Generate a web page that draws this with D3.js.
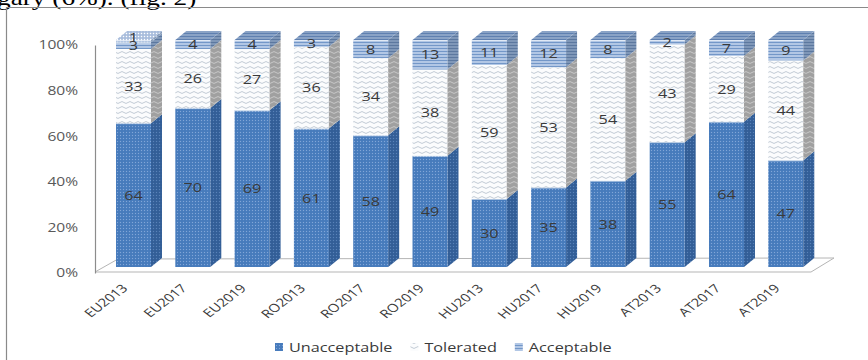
<!DOCTYPE html>
<html><head><meta charset="utf-8">
<script src="https://cdn.jsdelivr.net/npm/d3@7"></script>
<style>
html,body{margin:0;padding:0;background:#fff;overflow:hidden}
svg{display:block}
</style></head><body>
<svg id="chart" width="868" height="360"></svg>
<script>
// Survey shares per country/year (percent)
const categories = ["EU2013","EU2017","EU2019","RO2013","RO2017","RO2019","HU2013","HU2017","HU2019","AT2013","AT2017","AT2019"];
const unacceptable = [64,70,69,61,58,49,30,35,38,55,64,47];
const tolerated    = [33,26,27,36,34,38,59,53,54,43,29,44];
const acceptable   = [3,4,4,3,8,13,11,12,8,2,7,9];
const dontKnow     = [1,0,0,0,0,0,0,0,0,0,0,0];
const legendNames  = ["Unacceptable","Tolerated","Acceptable"];
const yTickValues  = [0,0.2,0.4,0.6,0.8,1];
const captionText  = "gary (6%). (fig. 2)";

const keys = ["Unacceptable","Tolerated","Acceptable","DK"];
const rows = categories.map((c,i)=>({cat:c, Unacceptable:unacceptable[i], Tolerated:tolerated[i], Acceptable:acceptable[i], DK:dontKnow[i]}));

const S = 1.3;            // horizontal text stretch
const DX = 11, DY = 9;    // bar depth offset
const FONT = "'Open Sans', sans-serif";

const svg = d3.select("#chart");
const defs = svg.append("defs");

function pattern(id, w, h, bg, draw){
  const p = defs.append("pattern").attr("id",id).attr("patternUnits","userSpaceOnUse")
    .attr("width",w).attr("height",h);
  p.append("rect").attr("width",w).attr("height",h).attr("fill",bg);
  draw(p);
}
function dots(c1,c2){ return p=>{
  p.append("rect").attr("x",0).attr("y",0).attr("width",1).attr("height",1).attr("fill",c1);
  p.append("rect").attr("x",1.5).attr("y",1.5).attr("width",1).attr("height",1).attr("fill",c2);
};}
function waves(c){ return p=>{
  p.append("path").attr("d","M0,2.5 Q2,0.6 4,2.5 T8,2.5").attr("fill","none").attr("stroke",c).attr("stroke-width",0.8);
};}
function stripes(c){ return p=>{
  p.append("rect").attr("x",0).attr("y",0).attr("width",4).attr("height",1).attr("fill",c);
};}
pattern("pU",3,3,"#4a7ebf",dots("#82a6d6","#3f70ae"));
pattern("pUs",3,3,"#35619b",dots("#5a82b6","#2c5488"));
pattern("pUt",3,3,"#5d86bd",dots("#8fb0da","#4a74ab"));
pattern("pT",8,5,"#fbfcfd",waves("#b3bdca"));
pattern("pTs",8,5,"#a0a0a0",waves("#d0d0d0"));
pattern("pTt",8,5,"#c9cdd3",waves("#e8e8e8"));
pattern("pA",4,3,"#b2c7e5",stripes("#7397c8"));
pattern("pAs",4,3,"#7f97b8",stripes("#5c789f"));
pattern("pAt",4,3,"#8aa3c6",stripes("#5f80b0"));
pattern("pD",3,3,"#c3d3ea",dots("#ffffff","#7f9fcc"));
pattern("pDs",3,3,"#8ea3c0",dots("#c0cde0","#6f88ab"));
pattern("pDt",3,3,"#b7c8e2",dots("#ffffff","#7f9fcc"));
const fills = {
  Unacceptable:["url(#pU)","url(#pUs)","url(#pUt)"],
  Tolerated:["url(#pT)","url(#pTs)","url(#pTt)"],
  Acceptable:["url(#pA)","url(#pAs)","url(#pAt)"],
  DK:["url(#pD)","url(#pDs)","url(#pDt)"]
};

// caption line of the surrounding text
svg.append("text").attr("transform",`translate(-3,5) scale(${S},1)`).attr("font-family","'Liberation Serif', serif")
  .attr("font-size",21).attr("fill","#000").text(captionText);

// chart frame
svg.append("path").attr("d","M6.5,361 V7.5 H870").attr("fill","none").attr("stroke","#8a8a8a").attr("stroke-width",1.2);

// scales
const x = d3.scaleBand().domain(categories).range([91.7,827.6]).padding(0.41);
const y = d3.scaleLinear().domain([0,1]).range([267,40]);
const yFront = d3.scaleLinear().domain([0,1]).range([273,45]);
const bw = x.bandwidth();

// floor
const fl = [[95,272],[118,259],[834,258],[811,272]];
svg.append("polygon").attr("points",fl.map(p=>p.join(",")).join(" "))
  .attr("fill","#fff").attr("stroke","#b5b5b5").attr("stroke-width",1);

// value axis
const yAxis = svg.append("g").attr("transform","translate(95,0)")
  .call(d3.axisLeft(yFront).tickValues(yTickValues).tickFormat(d3.format(".0%")).tickSizeInner(0).tickSizeOuter(0).tickPadding(13));
yAxis.select(".domain").attr("stroke","#8c8c8c").attr("stroke-width",1.2);
yAxis.selectAll("text").attr("font-family",FONT).attr("font-size",12).attr("fill","#595959")
  .attr("transform",`scale(${S},1)`).attr("x",-13);

// stacked bars
const stacked = d3.stack().keys(keys).offset(d3.stackOffsetExpand)(rows);
const segs = [];
stacked.forEach(s=>s.forEach((d,i)=>{ if(d.data[s.key]>0) segs.push({key:s.key, cat:d.data.cat, i, y0:d[0], y1:d[1], v:d.data[s.key]}); }));

const bars = svg.append("g");
categories.forEach((c,i)=>{
  const x0 = x(c);
  const mine = segs.filter(s=>s.cat===c);
  mine.forEach(s=>{
    const yb = y(s.y0), yt = y(s.y1);
    bars.append("rect").attr("x",x0).attr("y",yt).attr("width",bw).attr("height",yb-yt).attr("fill",fills[s.key][0]);
    bars.append("polygon").attr("points",[[x0+bw,yb],[x0+bw,yt],[x0+bw+DX,yt-DY],[x0+bw+DX,yb-DY]].map(p=>p.join(",")).join(" "))
      .attr("fill",fills[s.key][1]);
    bars.append("line").attr("x1",x0).attr("x2",x0+bw).attr("y1",yt+0.5).attr("y2",yt+0.5).attr("stroke","rgba(255,255,255,0.6)").attr("stroke-width",1);
  });
  const top = mine[mine.length-1];
  const yt = y(top.y1);
  bars.append("polygon").attr("points",[[x0,yt],[x0+bw,yt],[x0+bw+DX,yt-DY],[x0+DX,yt-DY]].map(p=>p.join(",")).join(" "))
    .attr("fill",fills[top.key][2]);
});

// value labels
svg.append("g").selectAll("text").data(segs).join("text")
  .attr("transform",d=>`translate(${x(d.cat)+bw/2},${(y(d.y0)+y(d.y1))/2 + (d.key==="DK"?-4:0)}) scale(${S},1)`)
  .attr("text-anchor","middle").attr("dominant-baseline","central")
  .attr("font-family",FONT).attr("font-size",12.5).attr("fill","#3a3a3a")
  .text(d=>d.v);

// category labels
svg.append("g").selectAll("text").data(categories).join("text")
  .attr("transform",c=>`translate(${x(c)+bw/2-5},289) scale(${S},1) rotate(-45)`)
  .attr("text-anchor","end").attr("font-family",FONT).attr("font-size",11.5).attr("fill","#3a3a3a")
  .text(c=>c);

// legend
const lg = svg.append("g");
let lx = 275;
legendNames.forEach((n,k)=>{
  const icon = ["url(#pU)","url(#pT)","url(#pA)"][k];
  lg.append("rect").attr("x",lx).attr("y",343).attr("width",8).attr("height",8).attr("fill",icon);
  const t = lg.append("text").attr("transform",`translate(${lx+14},351.5) scale(${S},1)`)
    .attr("font-family",FONT).attr("font-size",12.5).attr("fill","#3a3a3a").text(n);
  lx += 14 + t.node().getComputedTextLength()*S + 18;
});
</script>
</body></html>
